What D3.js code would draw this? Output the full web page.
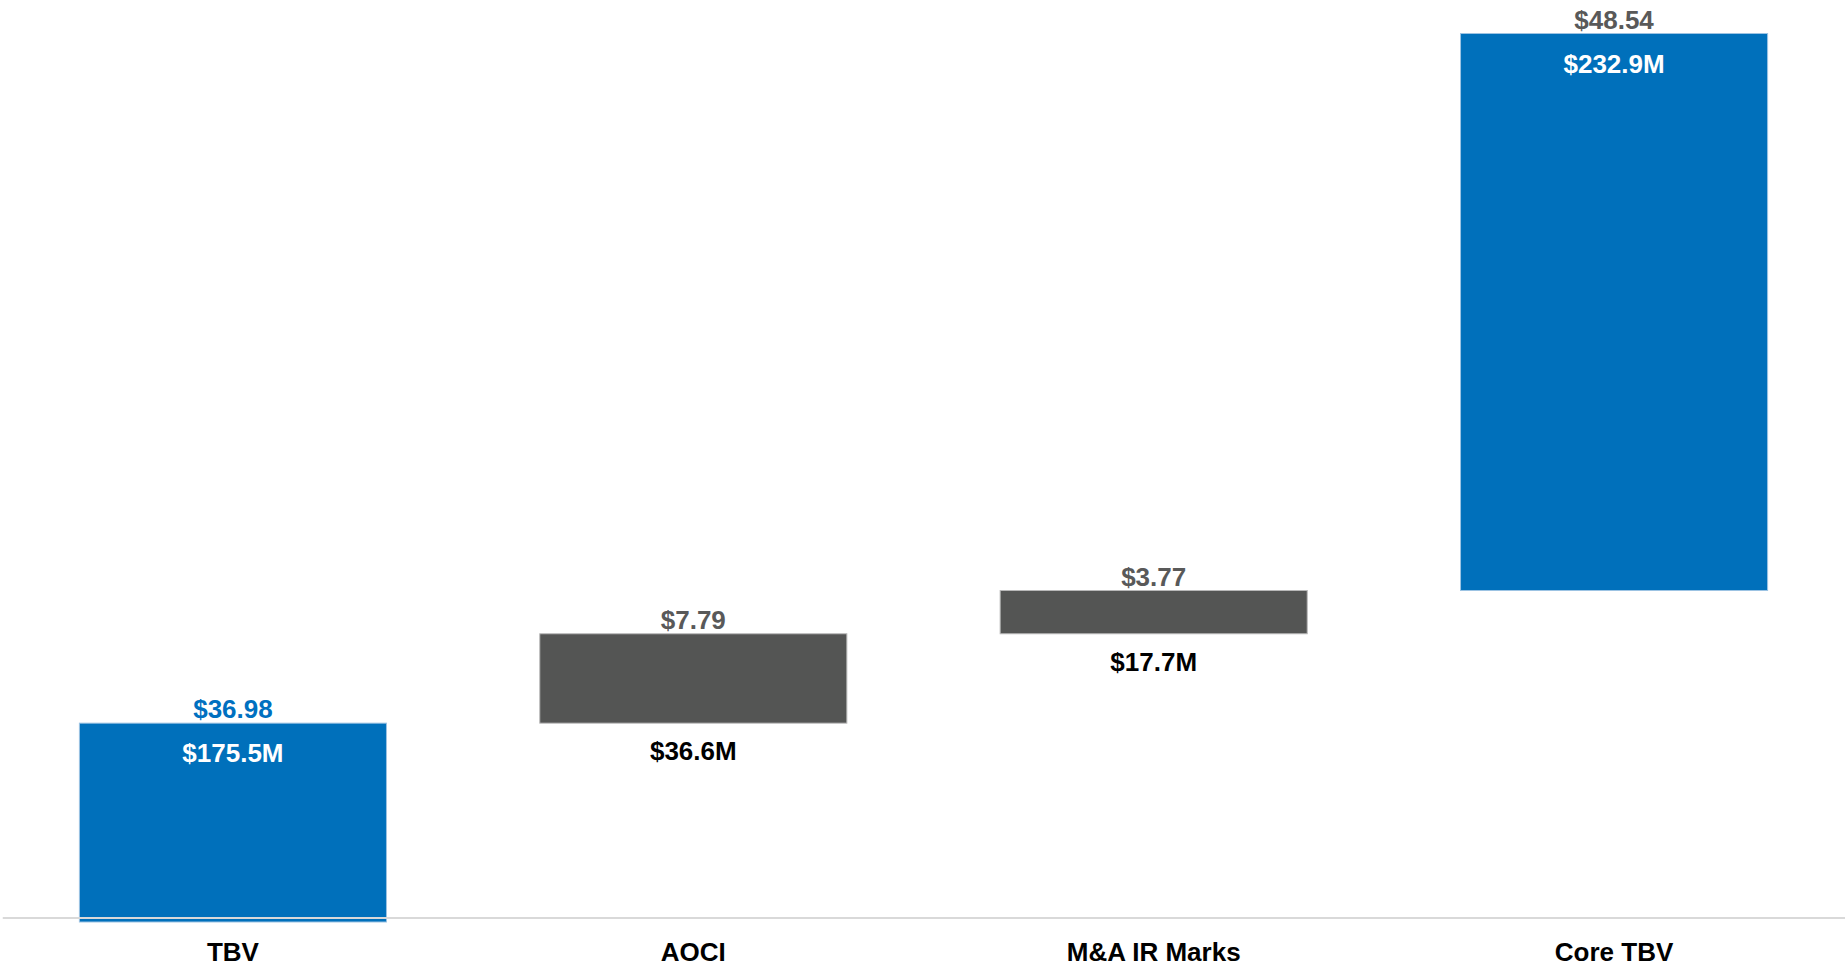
<!DOCTYPE html>
<html>
<head>
<meta charset="utf-8">
<script src="https://cdn.jsdelivr.net/npm/d3@7"></script>
<style>
  html, body { margin: 0; padding: 0; background: #ffffff; }
  svg { display: block; }
  text { font-family: "Liberation Sans", Arial, sans-serif; font-weight: bold; }
</style>
</head>
<body>
<svg id="chart" width="1845" height="971"></svg>
<script>
// ---- data ----
const categories = ["TBV", "AOCI", "M&A IR Marks", "Core TBV"];
const perShareValues = [36.98, 7.79, 3.77, 48.54];
const perShareLabels = ["$36.98", "$7.79", "$3.77", "$48.54"];
const millionLabels = ["$175.5M", "$36.6M", "$17.7M", "$232.9M"];
// invisible base of each waterfall step (as in the source chart)
const invisibleBase = [0, 36.98, 44.77, 48.54];
const barKind = ["total", "step", "step", "total"];
const yDomain = [20, 100];

// ---- layout ----
const W = 1845, H = 971;
const svg = d3.select("#chart");

const x = d3.scaleBand()
  .domain(categories)
  .range([2.75, 1844.25])
  .paddingInner(0.333)
  .paddingOuter(0.1665);

const y = d3.scaleLinear().domain(yDomain).range([918, 0]).clamp(true);

const colors = { total: "#0070bb", step: "#545554" };
const strokes = { total: "#9cc3e3", step: "#b8b8b8" };
const topLabelColor = ["#0070c0", "#595959", "#595959", "#595959"];

const data = categories.map((c, i) => ({
  cat: c,
  v: perShareValues[i],
  base: invisibleBase[i],
  kind: barKind[i],
  psLabel: perShareLabels[i],
  mLabel: millionLabels[i],
  topColor: topLabelColor[i]
}));

// bars
svg.append("g").selectAll("rect")
  .data(data)
  .join("rect")
  .attr("x", d => x(d.cat))
  .attr("width", x.bandwidth())
  .attr("y", d => y(d.base + d.v))
  .attr("height", d => {
    const bottom = d.base <= yDomain[0] ? y(yDomain[0]) + 4 : y(d.base);
    return bottom - y(d.base + d.v);
  })
  .attr("fill", d => colors[d.kind])
  .attr("stroke", d => strokes[d.kind])
  .attr("stroke-width", 1);

// axis baseline
const xAxis = d3.axisBottom(x).tickSize(0).tickPadding(25);
const ax = svg.append("g")
  .attr("transform", `translate(0,${y(yDomain[0])})`)
  .call(xAxis);
ax.select(".domain").attr("stroke", "#d9d9d9").attr("stroke-width", 2)
  .attr("d", `M2.75,0H1845`);
ax.selectAll(".tick text")
  .attr("font-size", 26)
  .attr("font-family", "'Liberation Sans', Arial, sans-serif")
  .attr("font-weight", "bold")
  .attr("fill", "#000000")
  .attr("dy", "0.71em");

// per-share labels above bars
svg.append("g").selectAll("text")
  .data(data)
  .join("text")
  .attr("x", d => x(d.cat) + x.bandwidth() / 2)
  .attr("y", d => y(d.base + d.v) - 5)
  .attr("text-anchor", "middle")
  .attr("font-size", 26)
  .attr("fill", d => d.topColor)
  .text(d => d.psLabel);

// $M labels: inside top for totals, below bar for steps
svg.append("g").selectAll("text")
  .data(data)
  .join("text")
  .attr("x", d => x(d.cat) + x.bandwidth() / 2)
  .attr("y", d => d.kind === "total" ? y(d.base + d.v) + 39 : y(d.base) + 37)
  .attr("text-anchor", "middle")
  .attr("font-size", 26)
  .attr("fill", d => d.kind === "total" ? "#ffffff" : "#000000")
  .text(d => d.mLabel);
</script>
</body>
</html>
